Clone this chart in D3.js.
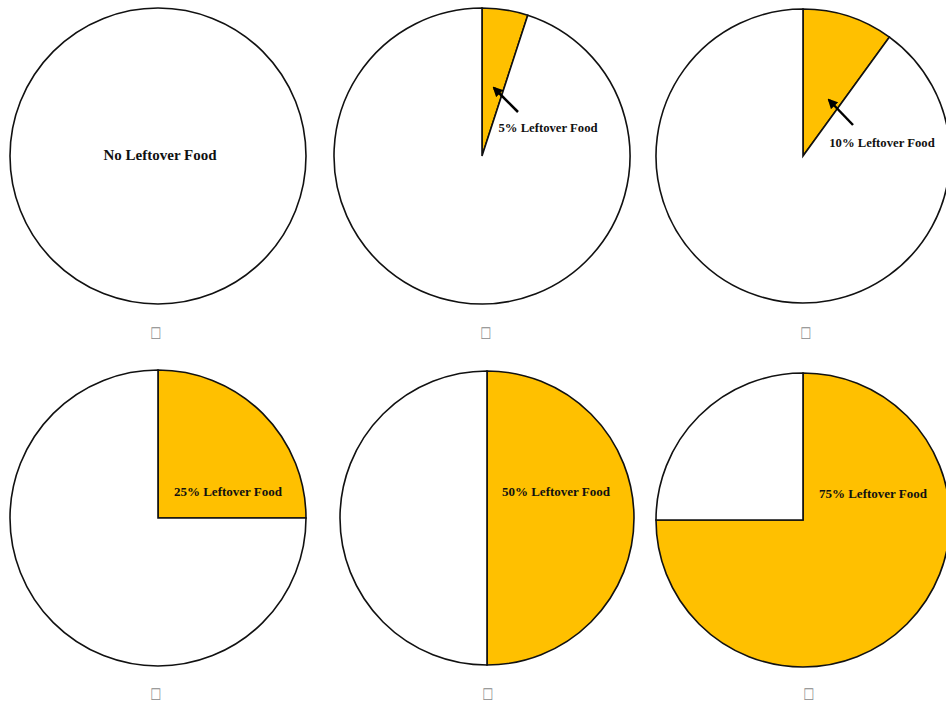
<!DOCTYPE html>
<html><head><meta charset="utf-8">
<script src="https://cdn.jsdelivr.net/npm/d3@7"></script>
<style>html,body{margin:0;padding:0;background:#fff;overflow:hidden}</style>
</head><body>
<svg id="chart" width="946" height="710"></svg>
<script>
// ---- data ----
const leftoverPercent = [0, 5, 10, 25, 50, 75];
const pieLabels = ["No Leftover Food", "5% Leftover Food", "10% Leftover Food",
                   "25% Leftover Food", "50% Leftover Food", "75% Leftover Food"];
const captionText = ["\u2610", "\u2610", "\u2610", "\u2610", "\u2610", "\u2610"];

// ---- layout (not data) ----
const centers = [[158,156],[482,156],[803,156],[158,518],[487,518],[803,520]];
const radii = [148,148,147,148,147,147];
const labelOffsets = [[2,-1],[66,-28],[79,-13],[70,-27],[69,-27],[70,-27]];
const labelSizes = [15,12.7,12.7,13,13,13];
const arrows = [null, [[36,-44],[12,-68]], [[50,-31],[26,-56]], null, null, null];
const captionPos = [[156,333],[486,333],[806,333],[156,694],[488,694],[809,694]];

const svg = d3.select("#chart");
svg.append("defs").append("marker")
  .attr("id","ah").attr("viewBox","0 0 10 10").attr("refX",8).attr("refY",5)
  .attr("markerWidth",4).attr("markerHeight",4).attr("orient","auto")
  .append("path").attr("d","M0,0L10,5L0,10z").attr("fill","#000");

const pie = d3.pie().sort(null).value(d => d.v);
const colors = ["#FFC000", "#FFFFFF"];

leftoverPercent.forEach((p, i) => {
  const g = svg.append("g").attr("transform", `translate(${centers[i][0]},${centers[i][1]})`);
  const arc = d3.arc().innerRadius(0).outerRadius(radii[i]);
  const arcs = pie([{v:p, k:0}, {v:100-p, k:1}]).filter(a => a.data.v > 0);
  g.selectAll("path.slice").data(arcs).join("path")
    .attr("class","slice")
    .attr("d", arc)
    .attr("fill", d => colors[d.data.k])
    .attr("stroke", "#111")
    .attr("stroke-width", 1.6)
    .attr("stroke-linejoin","miter");
  if (arrows[i]) {
    const [a, b] = arrows[i];
    g.append("line").attr("x1",a[0]).attr("y1",a[1]).attr("x2",b[0]).attr("y2",b[1])
      .attr("stroke","#000").attr("stroke-width",2.5).attr("marker-end","url(#ah)");
  }
  g.append("text")
    .attr("x", labelOffsets[i][0]).attr("y", labelOffsets[i][1])
    .attr("text-anchor","middle").attr("dominant-baseline","central")
    .attr("font-family","'Liberation Serif','Times New Roman',serif")
    .attr("font-weight","bold").attr("font-size", labelSizes[i])
    .attr("fill","#111")
    .text(pieLabels[i]);
  svg.append("g")
    .attr("transform", `translate(${captionPos[i][0]},${captionPos[i][1]}) scale(0.8,1.05)`)
    .style("opacity", 0.99)
    .append("text")
    .attr("text-anchor","middle").attr("dominant-baseline","central")
    .attr("font-family","'DejaVu Sans',sans-serif").attr("font-size",15)
    .attr("fill","#888")
    .text(captionText[i]);
});
</script>
</body></html>
